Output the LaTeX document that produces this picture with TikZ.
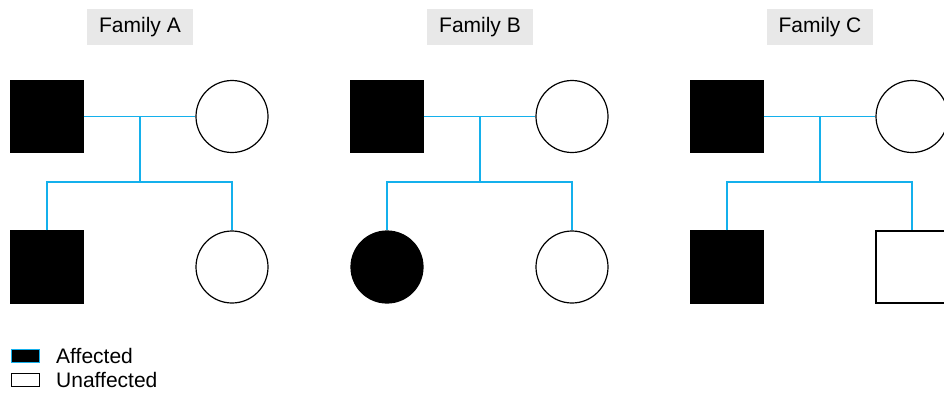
\documentclass[tikz,border=0pt]{standalone}
\usepackage{fontspec}
\setmainfont{Liberation Sans}
\definecolor{linkblue}{RGB}{20,176,236}
\definecolor{titlegray}{RGB}{232,232,232}
\tikzset{
  male/.style={draw=black, line width=1.2pt, rectangle, minimum size=72pt, inner sep=0pt},
  female/.style={draw=black, line width=1.2pt, circle, minimum size=72pt, inner sep=0pt},
  aff/.style={fill=black},
  unaff/.style={fill=white},
  link/.style={draw=linkblue, line width=1.4pt},
  titlebox/.style={fill=titlegray, minimum width=106pt, minimum height=36pt, inner sep=0pt, font=\fontsize{21}{24}\selectfont},
  legtext/.style={anchor=west, inner sep=0pt, font=\fontsize{21}{24}\selectfont}
}
\begin{document}
\begin{tikzpicture}[x=1pt,y=-1pt]
\useasboundingbox (0,0) rectangle (944,392);
\foreach \off/\lab/\cA/\cB in {0/A/male/female, 340/B/female/female, 680/C/male/male}{
  \node[titlebox] (t\lab) at (140+\off,27) {Family \lab};
  \node[male,aff] (f\lab) at (47+\off,116.5) {};
  \node[female,unaff] (m\lab) at (232+\off,116.5) {};
  \node[\cA,aff] (a\lab) at (47+\off,267) {};
  \node[\cB,unaff] (b\lab) at (232+\off,267) {};
  \coordinate (mid\lab) at (140+\off,116.5);
  \coordinate (sib\lab) at (140+\off,182);
  \draw[link] (f\lab.east) -- (m\lab.west);
  \draw[link] (mid\lab) -- (sib\lab);
  \draw[link] (a\lab.north) |- (sib\lab) -| (b\lab.north);
}
\node[draw=linkblue, fill=black, line width=1pt, minimum width=28pt, minimum height=13pt, inner sep=0pt] (legA) at (25.5,356) {};
\node[draw=black, fill=white, line width=1pt, minimum width=28pt, minimum height=13pt, inner sep=0pt] (legU) at (25.5,380) {};
\node[legtext] (legAt) at (56,356) {Affected};
\node[legtext] (legUt) at (56,380) {Unaffected};
\end{tikzpicture}
\end{document}
